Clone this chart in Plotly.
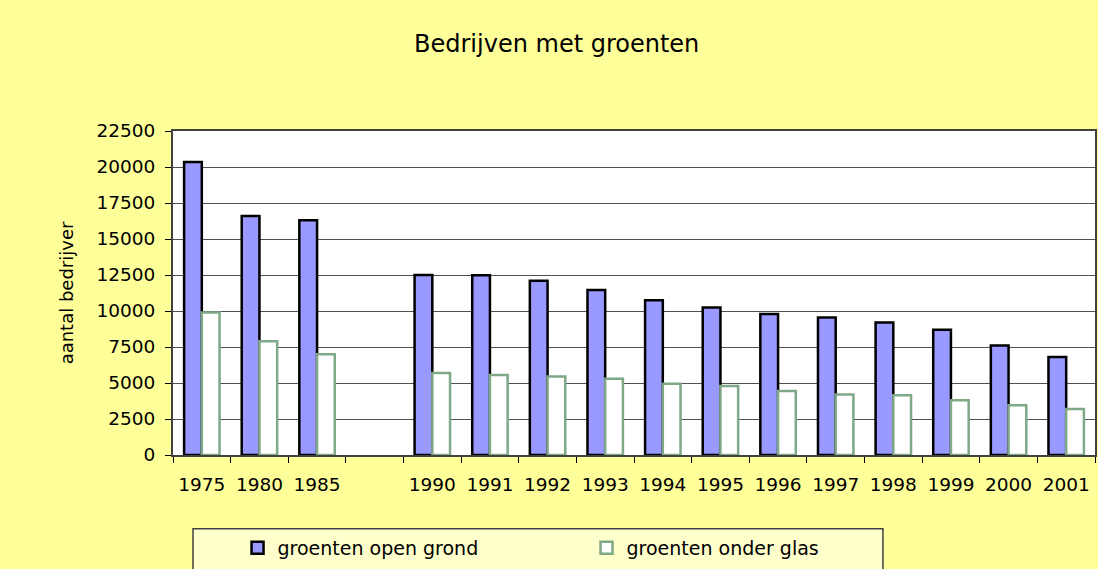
import plotly.graph_objects as go

categories = ["1975", "1980", "1985", " ", "1990", "1991", "1992", "1993", "1994",
              "1995", "1996", "1997", "1998", "1999", "2000", "2001"]
open_grond = [20350, 16600, 16300, None, 12500, 12480, 12100, 11450, 10750,
              10250, 9800, 9550, 9200, 8700, 7600, 6800]
onder_glas = [9900, 7900, 7000, None, 5700, 5550, 5450, 5300, 4950,
              4800, 4450, 4200, 4150, 3800, 3450, 3200]
y_ticks = [0, 2500, 5000, 7500, 10000, 12500, 15000, 17500, 20000, 22500]
y_labels = ["0", "2500", "5000", "7500", "10000", "12500", "15000", "17500", "20000", "22500"]

FONT = "DejaVu Sans"

fig = go.Figure()
fig.add_trace(go.Bar(
    x=categories, y=open_grond, name="groenten open grond",
    marker=dict(color="#9999FF", line=dict(color="#000000", width=2.5)),
))
fig.add_trace(go.Bar(
    x=categories, y=onder_glas, name="groenten onder glas",
    marker=dict(color="#FFFFFF", line=dict(color="#7FA886", width=2.5)),
))

fig.update_layout(
    width=1098, height=569,
    paper_bgcolor="#FFFF99",
    plot_bgcolor="#FFFFFF",
    margin=dict(l=173, r=3, t=131, b=114, autoexpand=False),
    barmode="group", bargap=0.385, bargroupgap=0,
    title=dict(text="Bedrijven met groenten", x=0.507, xanchor="center",
               y=0.924, yanchor="middle",
               font=dict(family=FONT, size=24, color="#000000")),
    font=dict(family=FONT, color="#000000"),
    showlegend=True,
    legend=dict(orientation="h", x=0.070, xanchor="left", y=-0.287, yanchor="middle",
                bgcolor="rgba(0,0,0,0)", borderwidth=0,
                font=dict(family=FONT, size=19, color="#000000"),
                entrywidth=304, entrywidthmode="pixels", itemwidth=30),
    shapes=[dict(type="rect", xref="paper", yref="paper",
                 x0=0.0217, x1=0.770, y0=-0.40, y1=-0.228,
                 line=dict(color="#404040", width=1.5), fillcolor="#FFFFCC",
                 layer="below")],
)

fig.update_xaxes(
    type="category", categoryorder="array", categoryarray=categories,
    showline=True, linecolor="#404040", linewidth=2, mirror=True,
    ticks="outside", tickson="boundaries", ticklen=6, tickcolor="#000000",
    tickfont=dict(family=FONT, size=18.5, color="#000000"),
    ticklabelstandoff=12,
    showgrid=False, fixedrange=True,
)
fig.update_yaxes(
    range=[0, 22500], tickvals=y_ticks, ticktext=y_labels,
    showline=True, linecolor="#404040", linewidth=2, mirror=True,
    ticks="outside", ticklen=6, tickcolor="#000000",
    tickfont=dict(family=FONT, size=18.5, color="#000000"),
    ticklabelstandoff=6,
    showgrid=True, gridcolor="#505050", gridwidth=1,
    zeroline=False,
    title=dict(text="aantal bedrijver", standoff=18,
               font=dict(family=FONT, size=18, color="#000000")),
    fixedrange=True,
)

fig.write_html("out.html", config={"displayModeBar": False},
               post_script="document.body.style.margin='0';document.body.style.padding='0';")
